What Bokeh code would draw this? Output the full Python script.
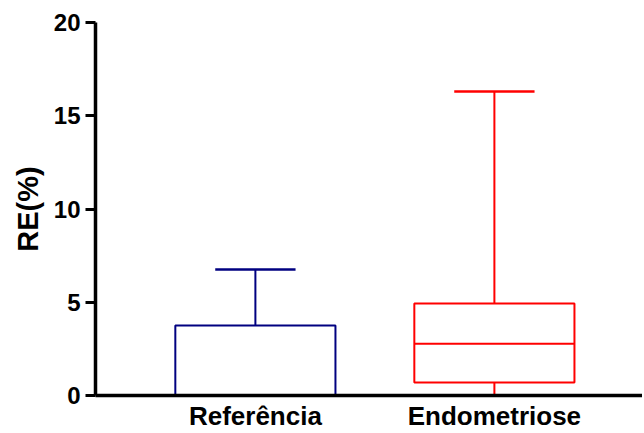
from bokeh.plotting import figure
from bokeh.models import Range1d, FixedTicker, ColumnDataSource
from bokeh.embed import file_html
from bokeh.resources import INLINE

categories = ["Referência", "Endometriose"]
positions = [1, 2]
whisker_low = [0.0, 0.0]
q1 = [0.0, 0.70]
median = [0.0, 2.78]
q3 = [3.75, 4.93]
whisker_high = [6.76, 16.3]
colors = ["#000080", "#FF0000"]
y_ticks = [0, 5, 10, 15, 20]

box_half = 0.335
cap_half = 0.168

src = ColumnDataSource(dict(
    x=positions,
    left=[x - box_half for x in positions],
    right=[x + box_half for x in positions],
    cl=[x - cap_half for x in positions],
    cr=[x + cap_half for x in positions],
    lo=whisker_low, q1=q1, med=median, q3=q3, hi=whisker_high,
    color=colors,
))

W = 642
p = figure(width=W, height=433, output_backend="svg", toolbar_location=None,
           x_range=Range1d(0.331, 0.331 + (W - 95) / 239.0), y_range=Range1d(0, 20),
           min_border_left=95, min_border_top=22, min_border_right=0, min_border_bottom=38)

p.segment(x0="x", y0="q3", x1="x", y1="hi", line_color="color", line_width=2, source=src)
p.segment(x0="x", y0="lo", x1="x", y1="q1", line_color="color", line_width=2, source=src)
p.segment(x0="cl", y0="hi", x1="cr", y1="hi", line_color="color", line_width=2.5, source=src)
p.segment(x0="cl", y0="lo", x1="cr", y1="lo", line_color="color", line_width=2.5, source=src)
p.quad(left="left", right="right", bottom="q1", top="q3", fill_color=None,
       line_color="color", line_width=2, source=src)
p.segment(x0="left", y0="med", x1="right", y1="med", line_color="color", line_width=2, source=src)

p.grid.visible = False
p.outline_line_color = None
p.background_fill_color = "white"
p.border_fill_color = "white"

xa = p.xaxis[0]
xa.ticker = FixedTicker(ticks=positions)
xa.major_label_overrides = {pos: cat for pos, cat in zip(positions, categories)}
xa.major_tick_line_color = None
xa.major_tick_out = 0
xa.major_tick_in = 0
xa.minor_tick_line_color = None
xa.axis_line_width = 3.5
xa.axis_line_color = "black"
xa.major_label_text_font = "Liberation Sans"
xa.major_label_text_font_style = "bold"
xa.major_label_text_font_size = "26px"
xa.major_label_text_color = "black"
xa.major_label_standoff = 5

ya = p.yaxis[0]
ya.ticker = FixedTicker(ticks=y_ticks)
ya.minor_tick_line_color = None
ya.major_tick_in = 0
ya.major_tick_out = 10
ya.major_tick_line_width = 3
ya.axis_line_width = 3.5
ya.axis_line_color = "black"
ya.major_label_text_font = "Liberation Sans"
ya.major_label_text_font_style = "bold"
ya.major_label_text_font_size = "24px"
ya.major_label_text_color = "black"
ya.major_label_standoff = 5
ya.axis_label = "RE(%)"
ya.axis_label_text_font = "Liberation Sans"
ya.axis_label_text_font_style = "bold"
ya.axis_label_text_font_size = "29px"
ya.axis_label_text_color = "black"
ya.axis_label_standoff = 7

open("out.html", "w").write(file_html(p, INLINE))
